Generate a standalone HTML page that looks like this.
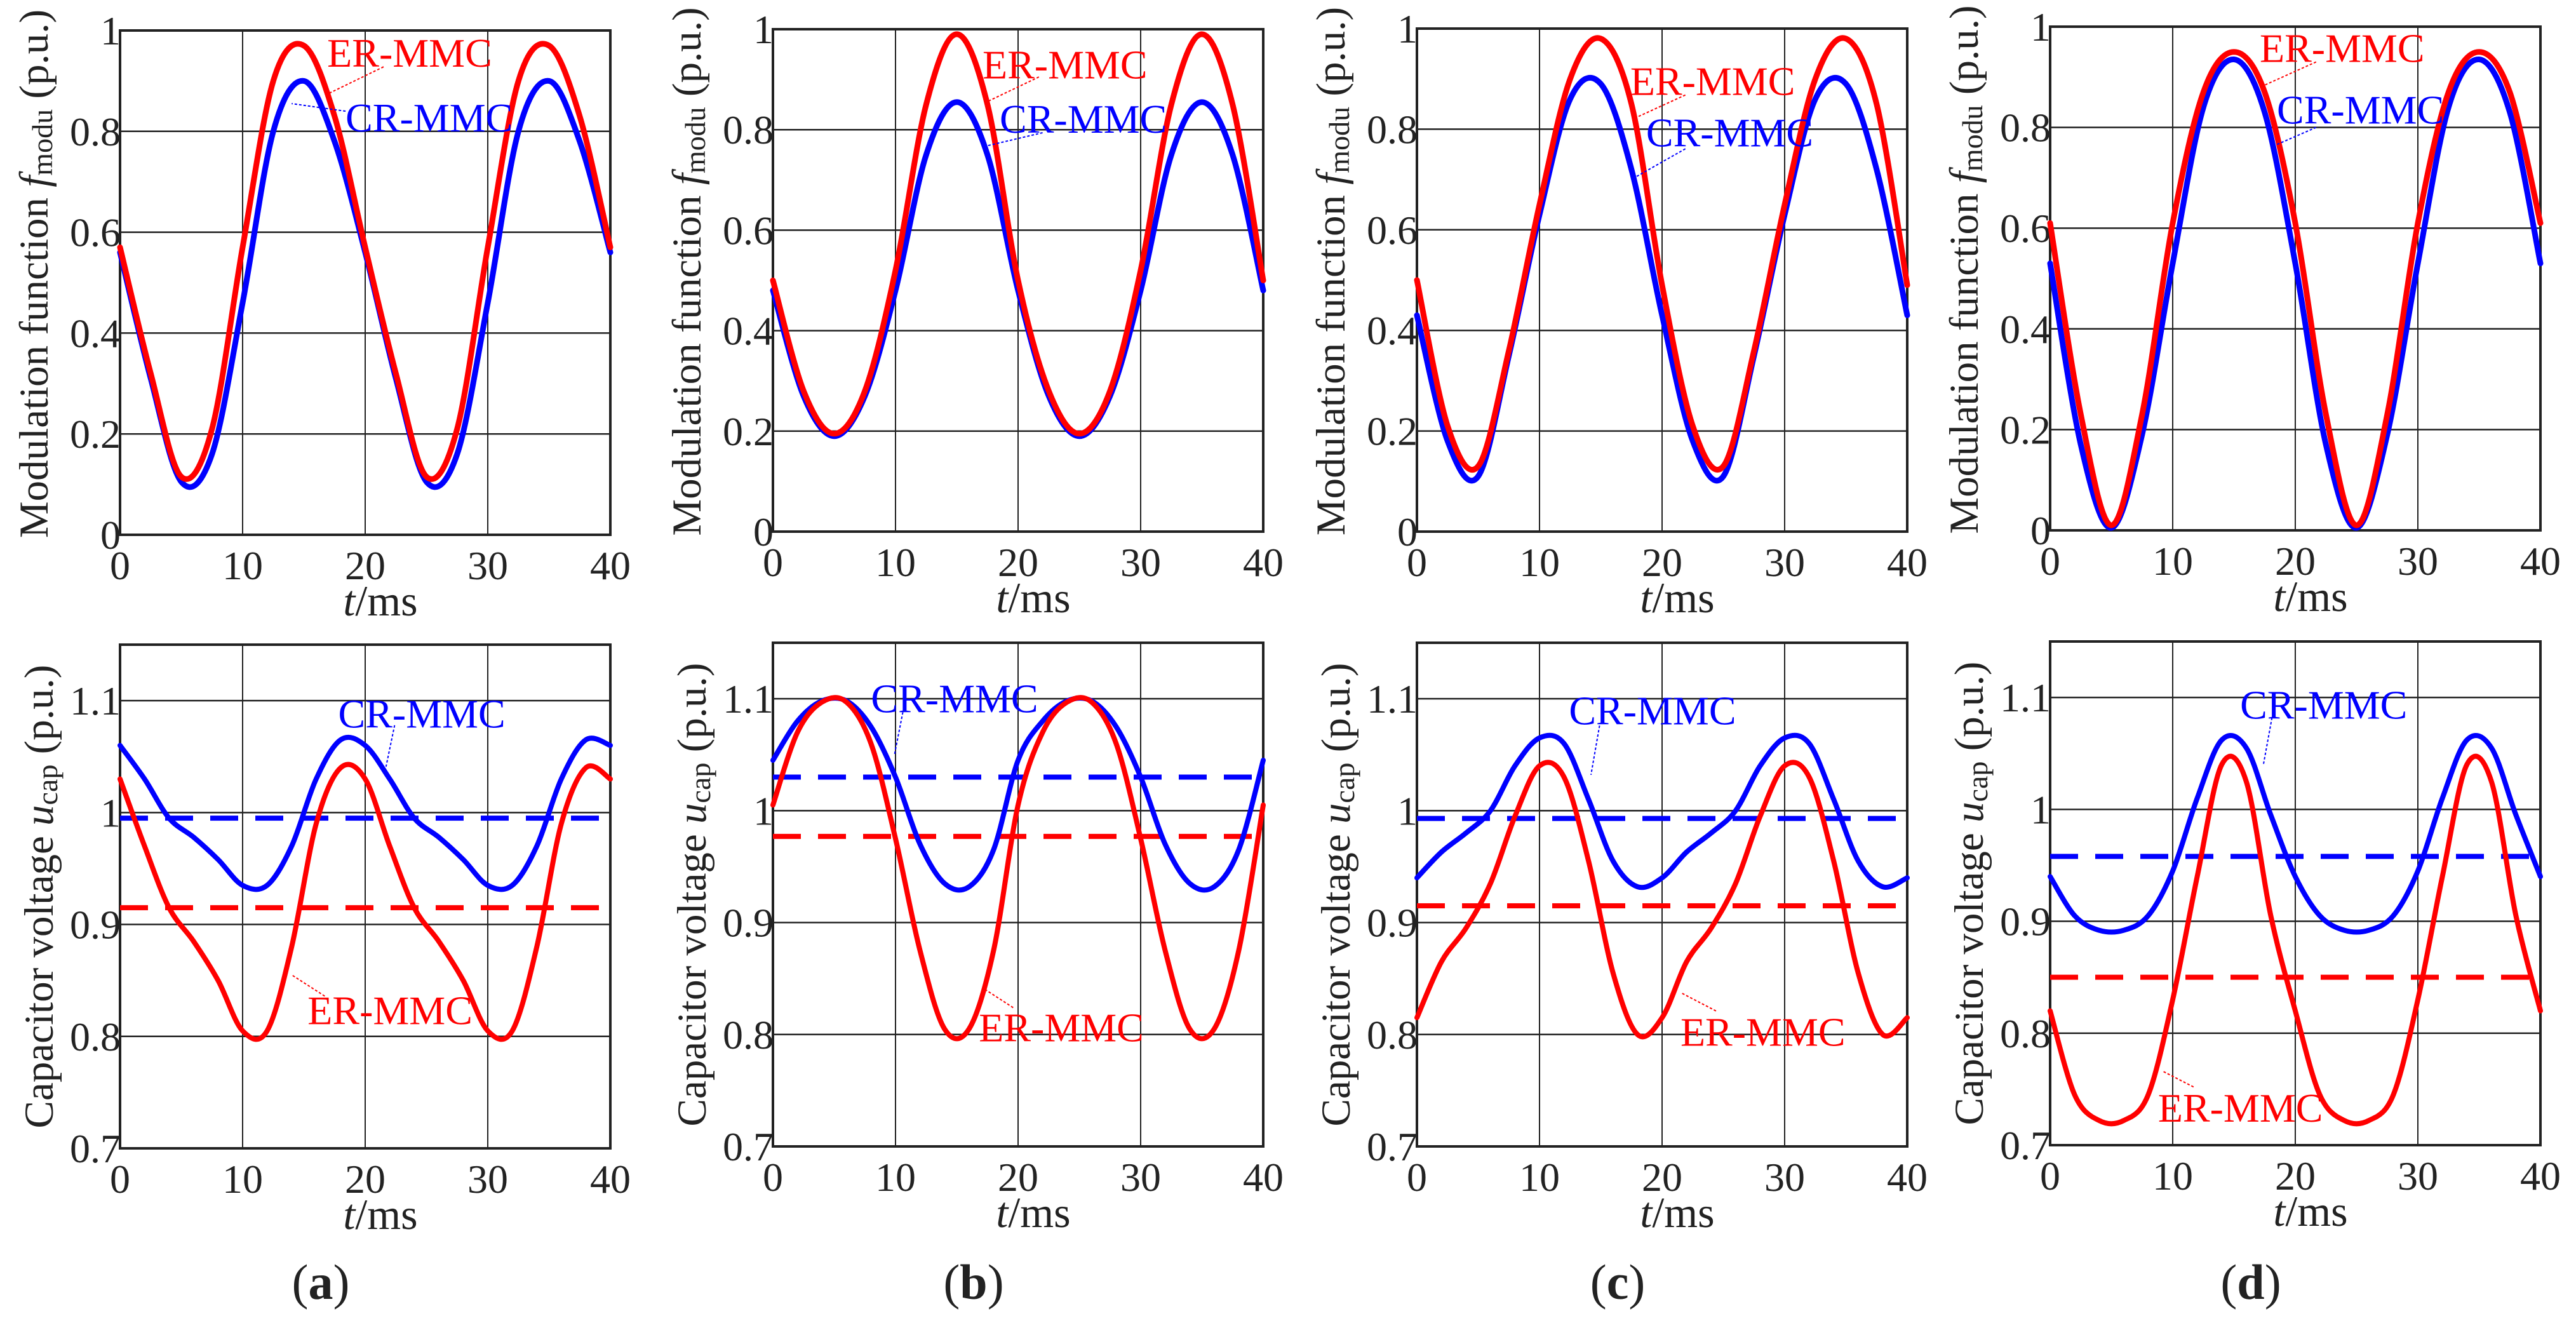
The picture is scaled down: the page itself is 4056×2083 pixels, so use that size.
<!DOCTYPE html>
<html><head><meta charset="utf-8"><title>Modulation function and capacitor voltage</title>
<style>
html,body{margin:0;padding:0;background:#fff;}
svg{display:block;}
svg text{font-family:"Liberation Serif","Times New Roman",serif;}
</style></head>
<body>
<svg id="fig" xmlns="http://www.w3.org/2000/svg" width="4056" height="2083" viewBox="0 0 4056 2083" font-family="Liberation Serif, serif"></svg>
<script>
// ---------- data ----------
const timeTop = [0,2.5,5,7.5,10,12.5,15,17.5,20,22.5,25,27.5,30,32.5,35,37.5,40];
const timeBot = [0,2,4,6,8,10,12,14,16,18,20,22,24,26,28,30,32,34,36,38,40];

const erTopA = [0.57,0.32,0.115,0.21,0.57,0.90,0.97,0.83,0.57,0.32,0.115,0.21,0.57,0.90,0.97,0.83,0.57];
const crTopA = [0.56,0.31,0.105,0.16,0.46,0.80,0.90,0.78,0.56,0.31,0.105,0.16,0.46,0.80,0.90,0.78,0.56];
const erTopB = [0.50,0.28,0.195,0.28,0.52,0.85,0.99,0.85,0.50,0.28,0.195,0.28,0.52,0.85,0.99,0.85,0.50];
const crTopB = [0.48,0.27,0.19,0.27,0.48,0.75,0.855,0.75,0.48,0.27,0.19,0.27,0.48,0.75,0.855,0.75,0.48];
const erTopC = [0.50,0.21,0.13,0.36,0.65,0.90,0.98,0.85,0.49,0.21,0.13,0.36,0.65,0.90,0.98,0.85,0.49];
const crTopC = [0.43,0.18,0.11,0.35,0.63,0.86,0.89,0.72,0.43,0.18,0.11,0.35,0.63,0.86,0.89,0.72,0.43];
const erTopD = [0.61,0.23,0.01,0.23,0.61,0.87,0.95,0.87,0.61,0.23,0.01,0.23,0.61,0.87,0.95,0.87,0.61];
const crTopD = [0.53,0.17,0.005,0.19,0.53,0.84,0.935,0.83,0.53,0.17,0.005,0.19,0.53,0.84,0.935,0.83,0.53];

const erBotA = [1.03,0.97,0.915,0.885,0.85,0.805,0.805,0.88,0.99,1.04,1.03,0.97,0.915,0.885,0.85,0.805,0.805,0.88,0.99,1.04,1.03];
const crBotA = [1.06,1.03,0.995,0.978,0.958,0.935,0.935,0.97,1.03,1.065,1.06,1.03,0.995,0.978,0.958,0.935,0.935,0.97,1.03,1.065,1.06];
const erBotB = [1.005,1.07,1.097,1.097,1.06,0.975,0.875,0.805,0.805,0.875,1.005,1.07,1.097,1.097,1.06,0.975,0.875,0.805,0.805,0.875,1.005];
const crBotB = [1.045,1.08,1.098,1.098,1.075,1.03,0.97,0.935,0.932,0.965,1.045,1.08,1.098,1.098,1.075,1.03,0.97,0.935,0.932,0.965,1.045];
const erBotC = [0.815,0.865,0.895,0.935,0.995,1.04,1.03,0.955,0.855,0.80,0.815,0.865,0.895,0.935,0.995,1.04,1.03,0.955,0.855,0.80,0.815];
const crBotC = [0.94,0.963,0.98,1.0,1.04,1.065,1.06,1.01,0.955,0.932,0.94,0.963,0.98,1.0,1.04,1.065,1.06,1.01,0.955,0.932,0.94];
const erBotD = [0.82,0.745,0.722,0.722,0.745,0.83,0.94,1.04,1.025,0.905,0.82,0.745,0.722,0.722,0.745,0.83,0.94,1.04,1.025,0.905,0.82];
const crBotD = [0.94,0.905,0.892,0.892,0.905,0.945,1.01,1.062,1.055,0.995,0.94,0.905,0.892,0.892,0.905,0.945,1.01,1.062,1.055,0.995,0.94];

const erMeanBot = [0.915,0.977,0.915,0.85];
const crMeanBot = [0.995,1.03,0.993,0.958];

const xTicks = [0,10,20,30,40];
const xTickLabels = ["0","10","20","30","40"];
const yTicksTop = [0,0.2,0.4,0.6,0.8,1];
const yTickLabelsTop = ["0","0.2","0.4","0.6","0.8","1"];
const yTicksBot = [0.7,0.8,0.9,1.0,1.1];
const yTickLabelsBot = ["0.7","0.8","0.9","1","1.1"];
const captions = ["a","b","c","d"];

// annotation positions (data coords): [textT, textV, leaderT1, leaderV1, leaderT2, leaderV2]
const erNoteTop = [[16.9,0.928,21.5,0.928,17.1,0.876],[17.1,0.902,21.7,0.905,17.5,0.856],[17.4,0.868,21.9,0.868,17.6,0.82],[17.1,0.93,21.7,0.93,17.5,0.884]];
const crNoteTop = [[18.4,0.80,18.4,0.84,14.0,0.855],[18.5,0.794,22.0,0.794,17.3,0.767],[18.7,0.766,21.9,0.761,17.7,0.703],[18.5,0.808,21.7,0.80,18.4,0.765]];
const erNoteBot = [[15.3,0.811,16.7,0.836,14.0,0.855],[16.8,0.794,19.6,0.824,17.2,0.841],[21.5,0.79,24.4,0.821,21.6,0.837],[8.8,0.721,11.7,0.752,9.2,0.766]];
const crNoteBot = [[17.8,1.076,22.4,1.078,21.7,1.041],[8.0,1.088,10.6,1.088,9.9,1.049],[12.4,1.077,14.9,1.076,14.2,1.032],[15.5,1.081,18.1,1.082,17.4,1.04]];

// ---------- layout ----------
const lefts = [189,1217,2231,3228];
const topsT = [48,46,45,42];
const botsT = [842,837,837,835];
const topsB = [1015,1012,1012,1010];
const botsB = [1808,1805,1805,1803];
const W = 772;
const RED = "#ff0000", BLUE = "#0000ff", INK = "#222";
const FONT = "'Liberation Serif', 'Times New Roman', serif";
const NS = "http://www.w3.org/2000/svg";
const svg = document.getElementById('fig');

function mk(tag, attrs, parent){
  const e = document.createElementNS(NS, tag);
  for (const k in attrs) e.setAttribute(k, attrs[k]);
  if (tag === 'text') e.setAttribute('style', 'font-family:' + FONT);
  (parent||svg).appendChild(e);
  return e;
}
function smoothPath(pts){
  let d = "M"+pts[0][0].toFixed(1)+","+pts[0][1].toFixed(1);
  for (let i=0;i<pts.length-1;i++){
    const p0=pts[Math.max(0,i-1)], p1=pts[i], p2=pts[i+1], p3=pts[Math.min(pts.length-1,i+2)];
    const c1x=p1[0]+(p2[0]-p0[0])/6, c1y=p1[1]+(p2[1]-p0[1])/6;
    const c2x=p2[0]-(p3[0]-p1[0])/6, c2y=p2[1]-(p3[1]-p1[1])/6;
    d+=" C"+c1x.toFixed(1)+","+c1y.toFixed(1)+" "+c2x.toFixed(1)+","+c2y.toFixed(1)+" "+p2[0].toFixed(1)+","+p2[1].toFixed(1);
  }
  return d;
}

function drawAxes(idx, isTop){
  const L = lefts[idx];
  const T = isTop ? topsT[idx] : topsB[idx];
  const B = isTop ? botsT[idx] : botsB[idx];
  const y0 = isTop ? 0 : 0.7, y1 = isTop ? 1 : 1.15;
  const xs = t => L + t/40*W;
  const ys = v => B - (v-y0)/(y1-y0)*(B-T);
  const g = mk('g', {});
  
  

  const yt = isTop ? yTicksTop : yTicksBot;
  const yl = isTop ? yTickLabelsTop : yTickLabelsBot;
  xTicks.forEach(t=>{
    if (t===0||t===40) return;
    const l = mk('line',{x1:xs(t),x2:xs(t),y1:T,y2:B,stroke:INK,'stroke-width':2},g);
    
    
  });
  yt.forEach(v=>{
    if (v===y0) return;
    const l = mk('line',{x1:L,x2:L+W,y1:ys(v),y2:ys(v),stroke:INK,'stroke-width':2.5},g);
    
    
  });
  xTicks.forEach((t,i)=>{
    const tx = mk('text',{x:xs(t),y:B+70,'font-size':64,'text-anchor':'middle',fill:INK},g);
    tx.textContent = xTickLabels[i];
    
    
  });
  yt.forEach((v,i)=>{
    const tx = mk('text',{x:L+1,y:ys(v)+22,'font-size':64,'text-anchor':'end',fill:INK},g);
    tx.textContent = yl[i];
    
    
  });
  const xt = mk('text',{x:L+410,y:B+127,'font-size':68,'text-anchor':'middle',fill:INK},g);
  xt.innerHTML = '<tspan font-style="italic">t</tspan>/ms';
  
  
  const cx = L - (isTop?135:127), cy = isTop ? (T+B)/2 - 14 : (T+B)/2 + 0;
  const ytl = mk('text',{x:cx,y:cy,'font-size':65,'text-anchor':'middle',fill:INK,transform:'rotate(-90 '+cx+' '+cy+')','dominant-baseline':'central'},g);
  if (isTop) ytl.innerHTML = 'Modulation function <tspan font-style="italic">f</tspan><tspan font-size="46" dy="12">modu</tspan><tspan dy="-12"> (p.u.)</tspan>';
  else ytl.innerHTML = 'Capacitor voltage <tspan font-style="italic">u</tspan><tspan font-size="46" dy="12">cap</tspan><tspan dy="-12"> (p.u.)</tspan>';
  
  
  const fr = mk('rect',{x:L,y:T,width:W,height:B-T,fill:'none',stroke:INK,'stroke-width':4},g);
  
  
  return {xs, ys, g};
}

function drawSeries(ax, times, vals, color, width, name){
  const pts = times.map((t,i)=>[ax.xs(t), ax.ys(vals[i])]);
  const p = mk('path',{d:smoothPath(pts),fill:'none',stroke:color,'stroke-width':width,'stroke-linejoin':'round','stroke-linecap':'round'},ax.g);
  
  
}
function drawNote(ax, note, label, color, name){
  const l = mk('line',{x1:ax.xs(note[2]),y1:ax.ys(note[3]),x2:ax.xs(note[4]),y2:ax.ys(note[5]),stroke:color,'stroke-width':2,'stroke-dasharray':'4 3'},ax.g);
  
  
  const t = mk('text',{x:ax.xs(note[0]),y:ax.ys(note[1]),'font-size':64,fill:color},ax.g);
  t.textContent = label;
  
  
}

const topER=[erTopA,erTopB,erTopC,erTopD], topCR=[crTopA,crTopB,crTopC,crTopD];
const botER=[erBotA,erBotB,erBotC,erBotD], botCR=[crBotA,crBotB,crBotC,crBotD];

for (let i=0;i<4;i++){
  const a = drawAxes(i,true);
  drawSeries(a, timeTop, topCR[i], BLUE, 9, 'cr-mmc-modulation-line');
  drawSeries(a, timeTop, topER[i], RED, 9, 'er-mmc-modulation-line');
  drawNote(a, erNoteTop[i], 'ER-MMC', RED, 'er-mmc-label');
  drawNote(a, crNoteTop[i], 'CR-MMC', BLUE, 'cr-mmc-label');

  const b = drawAxes(i,false);
  const dm1 = mk('line',{x1:b.xs(0),x2:b.xs(40),y1:b.ys(crMeanBot[i]),y2:b.ys(crMeanBot[i]),stroke:BLUE,'stroke-width':8,'stroke-dasharray':'44 27'},b.g);
  
  
  const dm2 = mk('line',{x1:b.xs(0),x2:b.xs(40),y1:b.ys(erMeanBot[i]),y2:b.ys(erMeanBot[i]),stroke:RED,'stroke-width':8,'stroke-dasharray':'44 27'},b.g);
  
  
  drawSeries(b, timeBot, botCR[i], BLUE, 8, 'cr-mmc-voltage-line');
  drawSeries(b, timeBot, botER[i], RED, 8, 'er-mmc-voltage-line');
  drawNote(b, erNoteBot[i], 'ER-MMC', RED, 'er-mmc-label');
  drawNote(b, crNoteBot[i], 'CR-MMC', BLUE, 'cr-mmc-label');

  const cap = mk('text',{x:lefts[i]+316,y:2045,'font-size':78,'text-anchor':'middle',fill:INK});
  cap.innerHTML = '(<tspan font-weight="bold">'+captions[i]+'</tspan>)';
  
  
}
</script>
</body></html>
